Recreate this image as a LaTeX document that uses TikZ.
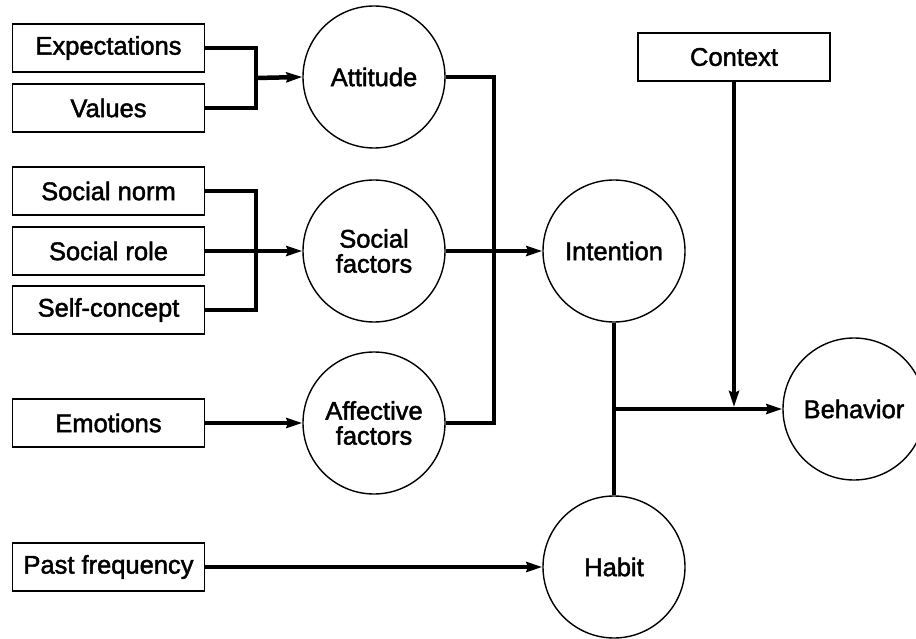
\documentclass[tikz,border=0pt]{standalone}
\usepackage{fontspec}
\setmainfont[FakeBold=1.8]{Liberation Sans}
\usetikzlibrary{arrows.meta}
\begin{document}
\begin{tikzpicture}[x=1pt,y=-1pt,
  every node/.style={font=\fontsize{25.5}{25}\selectfont, align=center},
  factorbox/.style={draw, line width=1.3pt, minimum width=192pt, minimum height=48pt, inner sep=0pt},
  construct/.style={circle, draw, line width=1.4pt, minimum size=142pt, inner sep=0pt},
  conn/.style={line width=4.5pt, line join=miter},
  arr/.style={conn, -{Stealth[length=16pt, width=10pt, inset=2pt]}}]
  \useasboundingbox (0,0) rectangle (916,639);
  \clip (0,0) rectangle (916,639);
  \fill[white] (0,0) rectangle (916,639);

  % input factors
  \node[factorbox] (exp)  at (108.5,48)  {Expectations};
  \node[factorbox] (val)  at (108.5,108) {Values};
  \node[factorbox] (sn)   at (108.5,191) {Social norm};
  \node[factorbox] (sr)   at (108.5,251) {Social role};
  \node[factorbox] (sc)   at (108.5,310) {Self-concept};
  \node[factorbox] (emo)  at (108.5,423) {Emotions};
  \node[factorbox] (past) at (108.5,567) {Past frequency};
  \node[factorbox] (ctx)  at (734,57)    {Context};

  % constructs
  \node[construct] (att) at (374,77)  {Attitude};
  \node[construct] (sf)  at (374,251) {Social\\factors};
  \node[construct] (aff) at (374,423) {Affective\\factors};
  \node[construct] (int) at (614,251) {Intention};
  \node[construct] (hab) at (614,567) {Habit};
  \node[construct] (beh) at (854,409) {Behavior};

  % junction points
  \coordinate (j1) at (256,78);
  \coordinate (j2) at (256,251);
  \coordinate (jr) at (494,251);
  \coordinate (j4) at (614,409);
  \coordinate (jc) at (734,407);

  % attitude inputs
  \draw[conn] (exp.east) -| (j1) |- (val.east);
  \draw[arr] (j1) -- (att.west);

  % social inputs
  \draw[conn] (sn.east) -| (j2) |- (sc.east);
  \draw[arr] (sr.east) -- (sf.west);

  % affective input
  \draw[arr] (emo.east) -- (aff.west);

  % into intention
  \draw[conn] (att.east) -| (jr) |- (aff.east);
  \draw[arr] (sf.east) -- (int.west);

  % habit and behaviour
  \draw[arr] (past.east) -- (hab.west);
  \draw[conn] (int.south) -- (hab.north);
  \draw[arr] (j4) -- (beh.west);
  \draw[arr] (ctx.south) -- (jc);
\end{tikzpicture}
\end{document}
